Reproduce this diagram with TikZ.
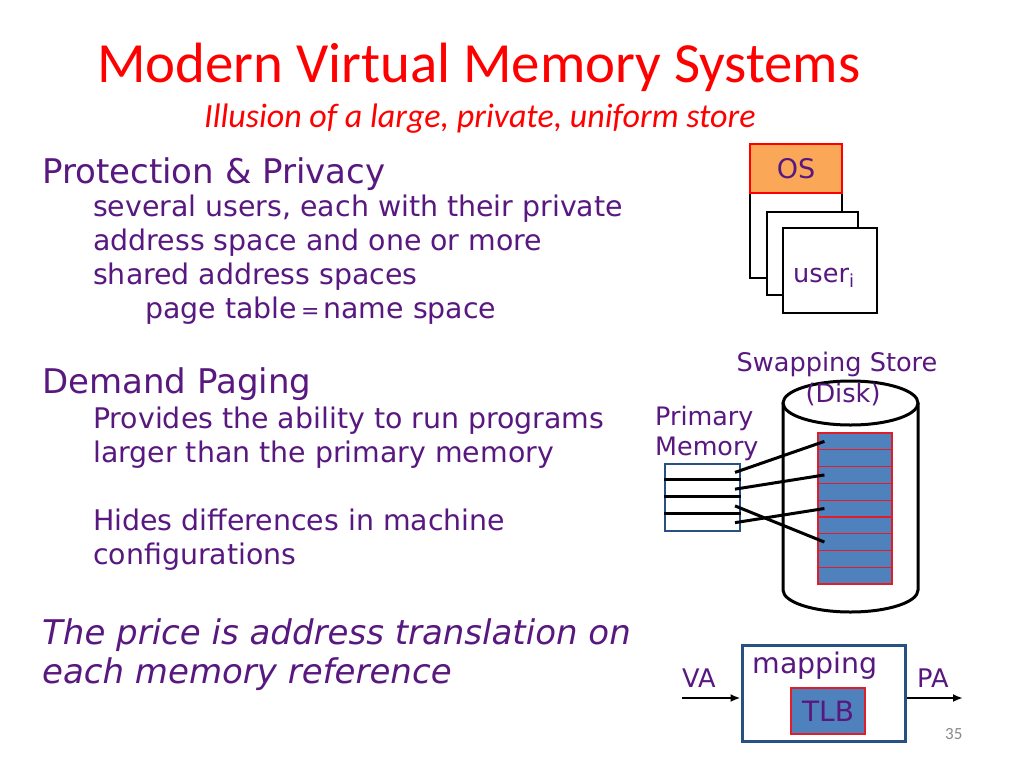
\documentclass[tikz,border=0pt]{standalone}
\usepackage{fontspec}
\setmainfont{DejaVu Sans}
\newfontfamily\titlefont{Carlito}
\usetikzlibrary{calc,arrows.meta}
\definecolor{txt}{RGB}{88,24,128}
\definecolor{osfill}{RGB}{250,168,88}
\definecolor{cellblue}{RGB}{79,129,189}
\definecolor{cellred}{RGB}{225,30,40}
\definecolor{frameblue}{RGB}{40,80,130}
\definecolor{pagegray}{RGB}{137,137,137}
\tikzset{
  lbl/.style={inner sep=0pt, anchor=base west, text=txt},
  head/.style={lbl, font=\fontsize{34}{40}\selectfont},
  sub/.style={lbl, font=\fontsize{28.4}{34}\selectfont},
  small/.style={lbl, font=\fontsize{25.4}{30}\selectfont},
  pagebox/.style={draw=black, line width=2.5pt, fill=white, inner sep=0pt},
  cell/.style={draw=cellred, line width=1.2pt, fill=cellblue, inner sep=0pt,
    minimum width=74pt, minimum height=16.78pt},
  mapline/.style={draw=black, line width=3pt},
  arr/.style={line width=2.5pt, -{Latex[length=10pt,width=8pt]}}
}
\begin{document}
\begin{tikzpicture}[x=1pt,y=-1pt]
\useasboundingbox[fill=white] (0,0) rectangle (1024,768);

% title
\node[inner sep=0pt, anchor=base west, text=red, font=\titlefont\fontsize{56.8}{68}\selectfont] (title) at (97,82) {Modern Virtual Memory Systems};
\node[inner sep=0pt, anchor=base west, text=red, font=\titlefont\itshape\fontsize{34}{40}\selectfont] (subtitle) at (204,127) {Illusion of a large, private, uniform store};

% left text
\node[head] (h1) at (42,183) {Protection \& Privacy};
\node[sub] (s1) at (93,216) {several users, each with their private};
\node[sub] (s2) at (93,250) {address space and one or more};
\node[sub] (s3) at (93,284) {shared address spaces};
\node[sub] (s4) at (145,318) {page table\hspace{4pt}{\fontsize{22}{26}\selectfont =}\hspace{4pt}name space};

\node[head] (h2) at (42,393) {Demand Paging};
\node[sub] (s5) at (93,428) {Provides the ability to run programs};
\node[sub] (s6) at (93,462) {larger than the primary memory};
\node[sub] (s7) at (93,530) {Hides differences in machine};
\node[sub] (s8) at (93,564) {configurations};

\node[head, font=\itshape\fontsize{34}{40}\selectfont] (p1) at (42,644) {The price is address translation on};
\node[head, font=\itshape\fontsize{34}{40}\selectfont] (p2) at (42,683) {each memory reference};

% OS / user stack
\node[pagebox, minimum width=92pt, minimum height=85pt] (back) at (796,235.5) {};
\node[pagebox, minimum width=91pt, minimum height=83pt] (mid) at (812.5,253.5) {};
\node[pagebox, minimum width=94pt, minimum height=85pt] (front) at (830,270.5) {};
\node[draw=red, line width=2.5pt, fill=osfill, inner sep=0pt, minimum width=92pt, minimum height=49pt,
      text=txt, font=\fontsize{27}{32}\selectfont] (os) at (796,168.5) {OS};
\node[lbl, font=\fontsize{25.6}{30}\selectfont] (user) at (793,282) {user\textsubscript{i}};

% cylinder
\draw[line width=3pt, fill=white] (783,403) -- (783,590) arc[start angle=180, end angle=360, x radius=67.5, y radius=-22] -- (918,403);
\draw[line width=3pt] (850.5,403) ellipse[x radius=67.5, y radius=22];
\node[inner sep=0pt, anchor=base, text=txt, font=\fontsize{25.6}{30}\selectfont] (swap) at (837,371) {Swapping Store};
\node[inner sep=0pt, anchor=base, text=txt, font=\fontsize{25.6}{30}\selectfont] (disk) at (843,402) {(Disk)};

% disk pages
\foreach \i in {0,...,8} {
  \node[cell] (d\i) at (855, 433+16.78*\i+8.39) {};
}

% primary memory
\node[small] (pm1) at (655,425) {Primary};
\node[small] (pm2) at (655,455) {Memory};
\node[draw=frameblue, line width=2.5pt, fill=white, inner sep=0pt, minimum width=75pt, minimum height=67pt] (pm) at (702.5,497.5) {};
\foreach \i in {0,1,2,3} {
  \coordinate (p\i) at (735, 464+16.75*\i+8.4);
}
\foreach \k in {1,2,3} {
  \draw[line width=3pt] ($(pm.north west)+(0,16.75*\k)$) -- ($(pm.north east)+(0,16.75*\k)$);
}
\draw[mapline] (p0) -- ($(d0.west)+(7,0)$);
\draw[mapline] (p1) -- ($(d2.west)+(7,0)$);
\draw[mapline] (p3) -- ($(d4.west)+(7,0)$);
\draw[mapline] (p2) -- ($(d6.west)+(7,0)$);

% mapping box
\node[draw=frameblue, line width=3pt, inner sep=0pt, minimum width=163pt, minimum height=96pt] (map) at (823.5,693) {};
\node[inner sep=0pt, anchor=base, text=txt, font=\fontsize{28.4}{34}\selectfont] (mapping) at (815,673) {mapping};
\node[draw=cellred, line width=2pt, fill=cellblue, inner sep=0pt, minimum width=74pt, minimum height=46pt,
      text=txt, font=\fontsize{28}{32}\selectfont] (tlb) at (828,711) {TLB};
\node[lbl, font=\fontsize{25.6}{30}\selectfont] (va) at (682,687) {VA};
\node[lbl, font=\fontsize{25.6}{30}\selectfont] (pa) at (917,687) {PA};
\coordinate (vastart) at (682,698);
\coordinate (paend) at (963,698);
\draw[arr] (vastart) -- (map.west |- vastart);
\draw[arr] (map.east |- paend) -- (paend);

\node[inner sep=0pt, anchor=base west, text=pagegray, font=\titlefont\fontsize{17}{20}\selectfont] (num) at (945,739) {35};
\end{tikzpicture}
\end{document}
